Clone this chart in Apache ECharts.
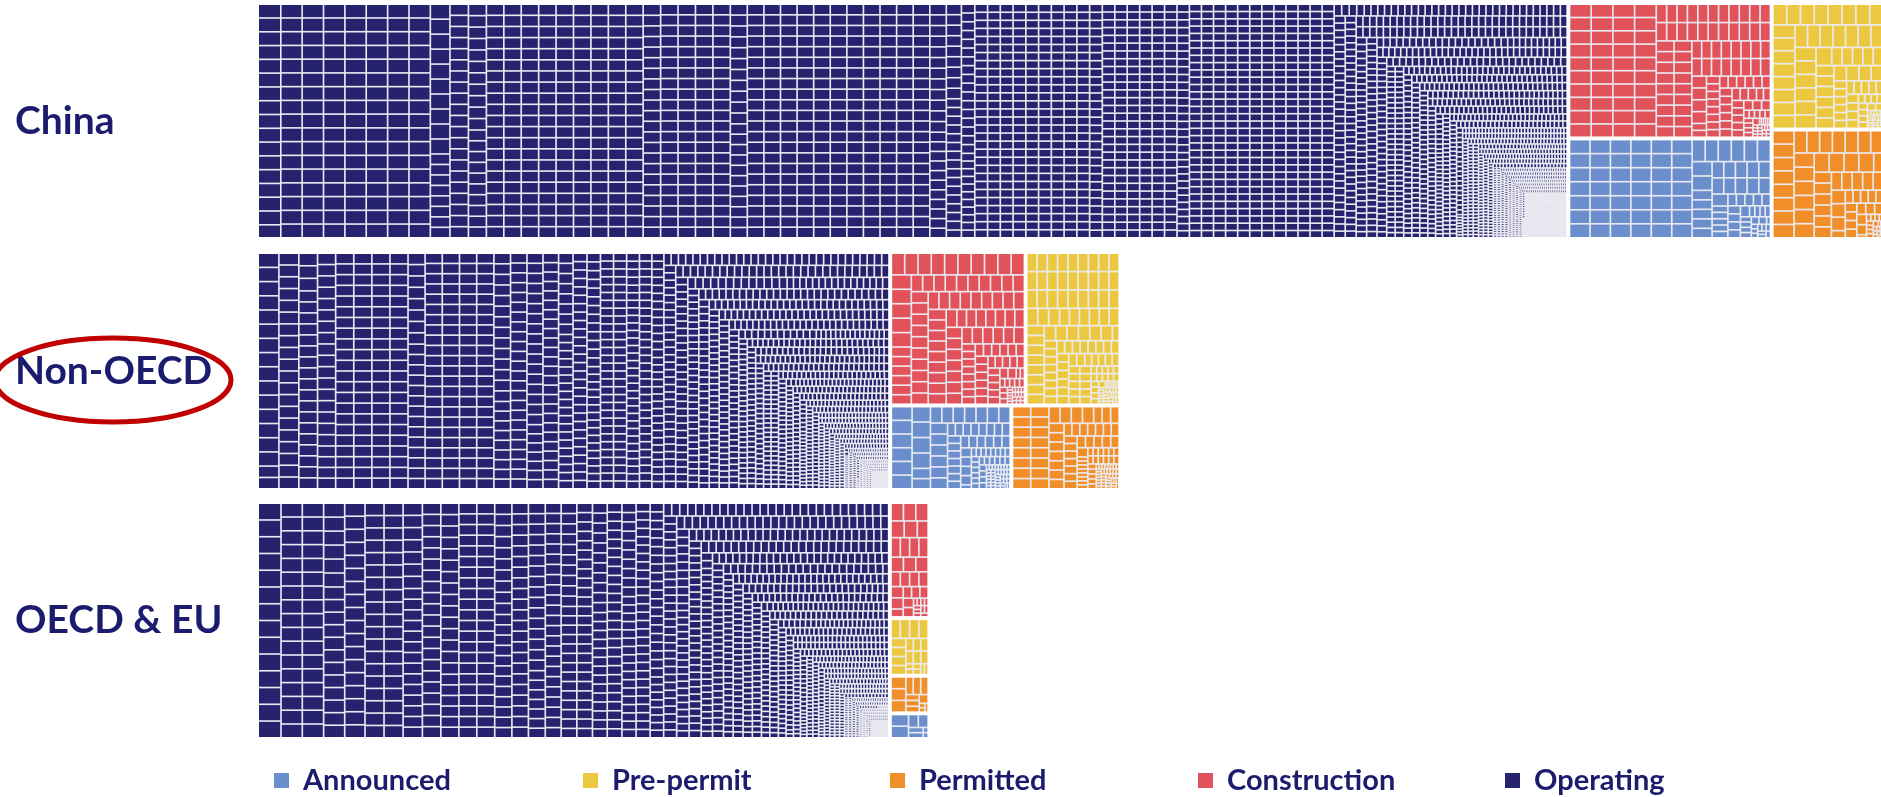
<!DOCTYPE html>
<html>
<head>
<meta charset="utf-8">
<script src="https://cdn.jsdelivr.net/npm/echarts@6/dist/echarts.min.js"></script>
<style>
html,body{margin:0;padding:0;background:#ffffff;}
#chart{width:1881px;height:797px;}
</style>
</head>
<body>
<div id="chart"></div>
<script>
// ---------------- DATA ----------------
const regions  = ['China', 'Non-OECD', 'OECD & EU'];
const statuses = ['Announced', 'Pre-permit', 'Permitted', 'Construction', 'Operating'];

const chinaOperating = [[1060,16],[1000,130],[700,40],[660,200],[630,120],[600,265],[540,20],[450,15],[400,18],
  [350,300],[330,200],[300,400],[270,60],[250,100],[220,80],[200,100],[150,120],[135,150],[125,100],[100,150],
  [60,200],[50,200],[30,200],[25,200],[12,300],[6,500]];
const chinaConstruction = [[1000,40],[660,40],[600,20],[350,25],[300,10],[150,10],[50,20]];
const chinaAnnounced    = [[1000,50],[660,16],[350,15],[200,10],[100,10]];
const chinaPrePermit    = [[1000,30],[660,15],[350,15],[200,10],[50,20]];
const chinaPermitted    = [[1000,25],[660,15],[350,15],[100,10],[50,10]];

const nonOecdOperating = [[1000,15],[800,25],[700,35],[660,100],[600,120],[550,50],[500,40],[400,60],[350,80],
  [330,70],[300,150],[250,100],[210,100],[200,80],[150,120],[135,80],[120,100],[100,120],[80,100],[60,120],
  [50,100],[30,100],[20,100],[10,100]];
const nonOecdConstruction = [[1000,15],[660,45],[600,20],[350,20],[300,12],[150,10],[50,20]];
const nonOecdPrePermit    = [[660,30],[600,20],[350,25],[300,15],[150,15],[50,30]];
const nonOecdAnnounced    = [[1000,10],[660,15],[350,25],[150,25],[50,40]];
const nonOecdPermitted    = [[660,20],[500,10],[350,20],[150,25],[50,40]];

const oecdOperating = [[1300,14],[1000,40],[900,30],[800,45],[700,50],[650,60],[600,50],[550,40],[500,50],
  [450,50],[400,65],[350,100],[300,100],[250,100],[200,100],[175,80],[150,100],[125,80],[100,100],[75,100],
  [60,80],[50,100],[30,100],[20,100],[10,100]];
const oecdConstruction = [[800,5],[660,8],[500,6],[350,6],[100,10]];
const oecdPrePermit    = [[660,4],[500,4],[350,6],[150,6]];
const oecdPermitted    = [[660,3],[500,3],[300,4],[100,3]];
const oecdAnnounced    = [[800,2],[500,2],[300,2],[100,2]];

const regionUnits = {
  'China':     {'Operating': chinaOperating, 'Construction': chinaConstruction, 'Announced': chinaAnnounced,
                'Pre-permit': chinaPrePermit, 'Permitted': chinaPermitted},
  'Non-OECD':  {'Operating': nonOecdOperating, 'Construction': nonOecdConstruction, 'Announced': nonOecdAnnounced,
                'Pre-permit': nonOecdPrePermit, 'Permitted': nonOecdPermitted},
  'OECD & EU': {'Operating': oecdOperating, 'Construction': oecdConstruction, 'Announced': oecdAnnounced,
                'Pre-permit': oecdPrePermit, 'Permitted': oecdPermitted}
};

// ---------------- STYLE / LAYOUT ----------------
const STATUS_COLOR = {
  'Announced': '#6b8ecc', 'Pre-permit': '#ebc840', 'Permitted': '#f08e2a',
  'Construction': '#e2525a', 'Operating': '#26226e'
};
const LINE_COLOR = '#e8e8f0';
const LABEL_COLOR = '#1c1c6e';
const ROWS = [{top: 5, height: 232}, {top: 254, height: 234}, {top: 504, height: 233}];
const PLOT_LEFT = 259;
const PX2_PER_MW = 0.2914;   // area scale shared by all three rows

function expandUnits(list) {
  const out = [];
  list.forEach(function (p) {
    for (let k = 0; k < p[1]; k++) out.push({value: p[0]});
  });
  return out;
}
function totalMW(list) {
  return list.reduce(function (s, p) { return s + p[0] * p[1]; }, 0);
}

const series = regions.map(function (r, i) {
  const st = regionUnits[r];
  let total = 0;
  const data = statuses.map(function (s) {
    total += totalMW(st[s]);
    return {name: s, itemStyle: {color: STATUS_COLOR[s]}, children: expandUnits(st[s])};
  });
  return {
    type: 'treemap',
    name: r,
    left: PLOT_LEFT,
    top: ROWS[i].top,
    width: total * PX2_PER_MW / ROWS[i].height,
    height: ROWS[i].height,
    roam: false,
    nodeClick: false,
    silent: true,
    animation: false,
    visibleMin: 0,
    breadcrumb: {show: false},
    label: {show: false},
    upperLabel: {show: false},
    levels: [
      {itemStyle: {borderWidth: 0, gapWidth: 4, borderColor: '#ffffff'}},
      {itemStyle: {borderWidth: 0, gapWidth: 1.6, borderColor: LINE_COLOR}},
      {itemStyle: {borderWidth: 0, gapWidth: 0}}
    ],
    data: data
  };
});

const graphics = [];
regions.forEach(function (r, i) {
  graphics.push({
    type: 'text', x: 15, y: ROWS[i].top + ROWS[i].height / 2,
    style: {text: r, font: 'bold 39px Lato', fill: LABEL_COLOR, align: 'left', verticalAlign: 'middle'}
  });
});
graphics.push({
  type: 'ellipse', shape: {cx: 113, cy: 380, rx: 118, ry: 42},
  style: {fill: 'none', stroke: '#c00000', lineWidth: 5}, z: 10
});
const LEGEND_X = [274, 583, 890, 1198, 1505];
statuses.forEach(function (s, i) {
  graphics.push({
    type: 'rect', shape: {x: LEGEND_X[i], y: 773, width: 15, height: 15},
    style: {fill: STATUS_COLOR[s]}
  });
  graphics.push({
    type: 'text', x: LEGEND_X[i] + 29, y: 781,
    style: {text: s, font: 'bold 29px Lato', fill: LABEL_COLOR, align: 'left', verticalAlign: 'middle'}
  });
});

const chart = echarts.init(document.getElementById('chart'), null, {renderer: 'canvas'});
chart.setOption({
  backgroundColor: '#ffffff',
  animation: false,
  tooltip: {show: false},
  series: series,
  graphic: graphics
});
</script>
</body>
</html>
